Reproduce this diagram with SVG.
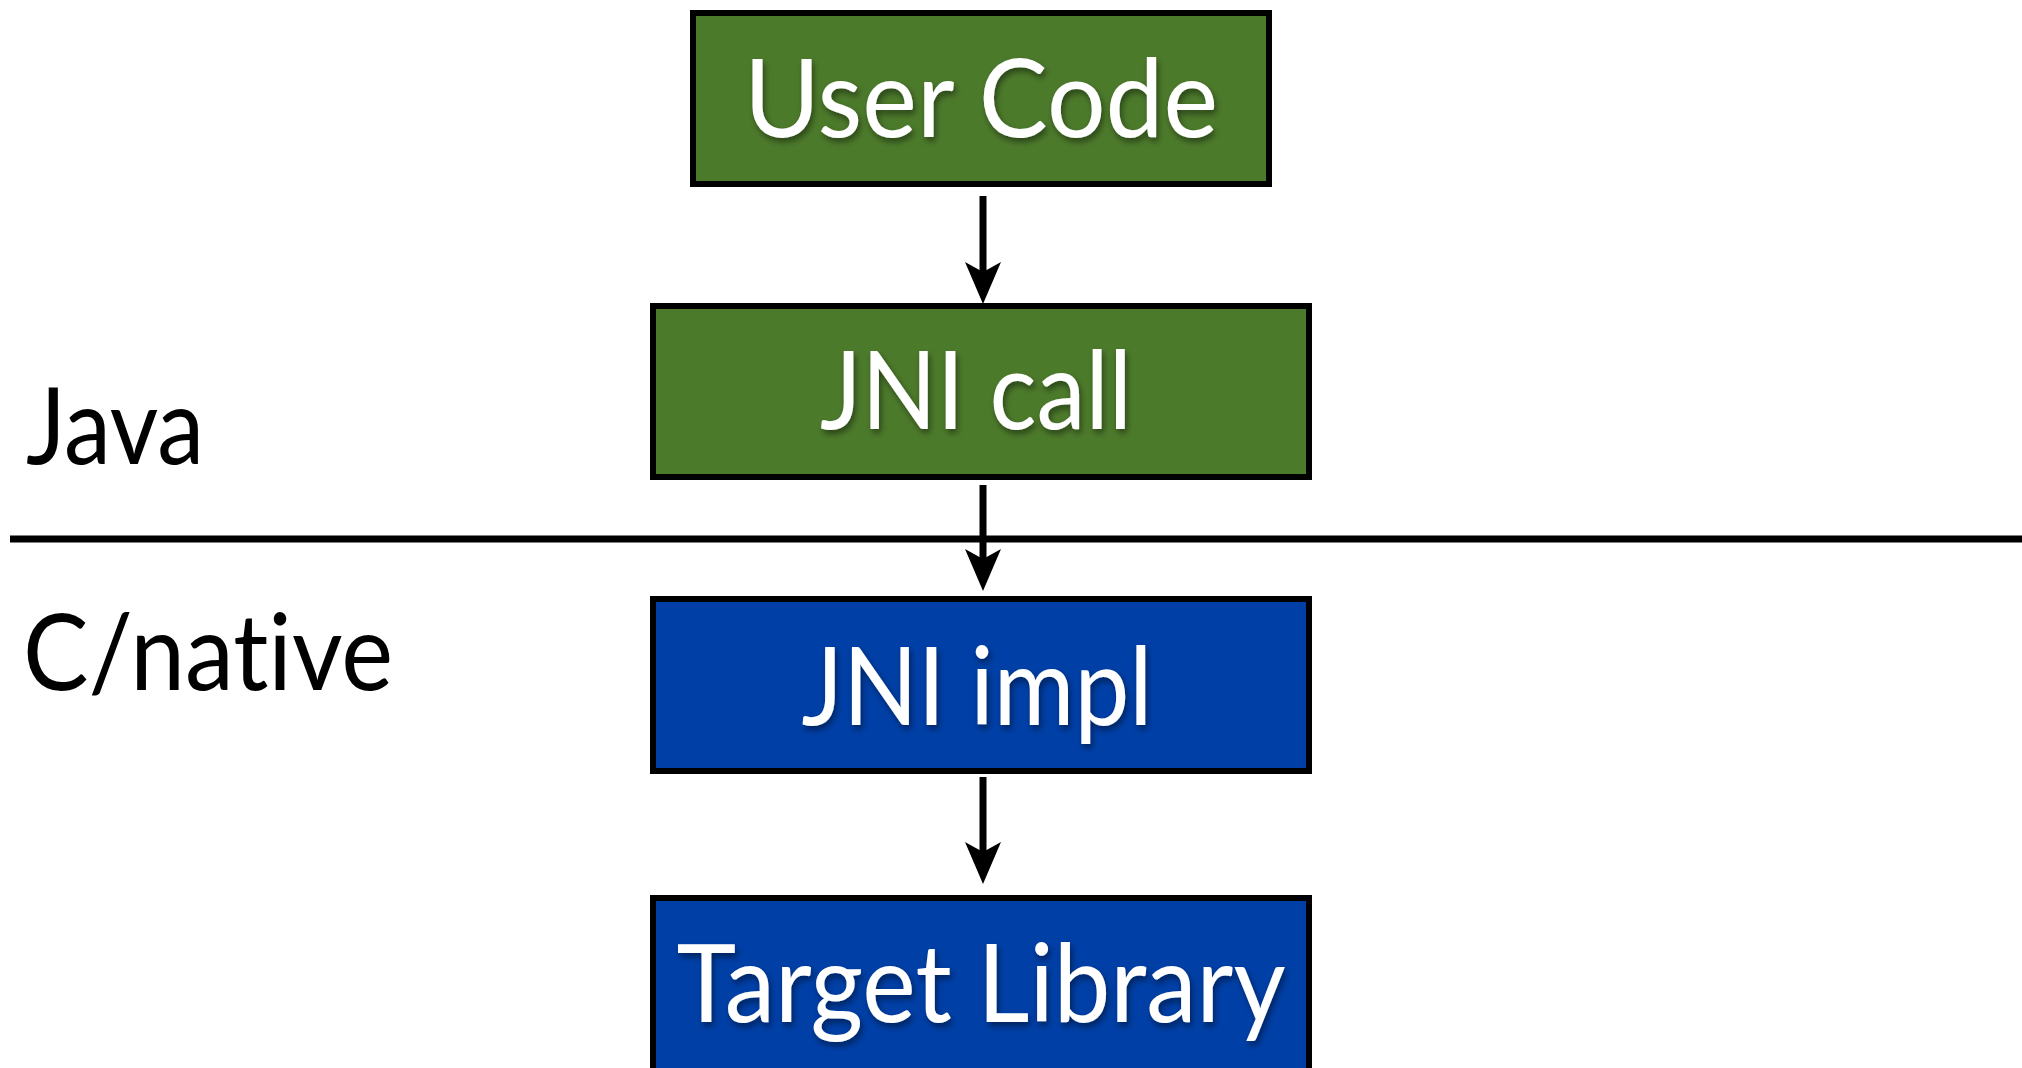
<svg xmlns="http://www.w3.org/2000/svg" width="2022" height="1068" viewBox="0 0 2022 1068">
<defs>
<style>
.box{stroke:#000;stroke-width:6}
.java{fill:#4c7a2b}
.native{fill:#003fa6}
.lbl{font-family:Lato,"Open Sans",sans-serif;font-size:108px;fill:#fff;text-anchor:middle;font-variant-ligatures:none}
.side{font-family:Lato,"Open Sans",sans-serif;font-size:106px;fill:#000;font-variant-ligatures:none}
.conn{stroke:#000;stroke-width:7;fill:none}
</style>
<filter id="sh" x="-10%" y="-10%" width="120%" height="130%">
<feDropShadow dx="2" dy="4" stdDeviation="3" flood-color="#000" flood-opacity="0.45"/>
</filter>
<marker id="ah" viewBox="0 0 42 36" markerUnits="userSpaceOnUse" markerWidth="42" markerHeight="36" refX="20" refY="18" orient="auto">
<path d="M0,0 L42,18 L0,36 L10,18 Z" fill="#000"/>
</marker>
</defs>
<rect width="2022" height="1068" fill="#fff"/>
<g id="labels">
<text class="side" x="26" y="464" textLength="178" lengthAdjust="spacingAndGlyphs">Java</text>
<text class="side" x="23" y="690" textLength="370" lengthAdjust="spacingAndGlyphs">C/native</text>
</g>
<g id="connectors">
<line class="conn" x1="10" y1="539" x2="2022" y2="539"/>
<line class="conn" x1="983" y1="196" x2="983" y2="282" marker-end="url(#ah)"/>
<line class="conn" x1="983" y1="485" x2="983" y2="569" marker-end="url(#ah)"/>
<line class="conn" x1="983" y1="777" x2="983" y2="862" marker-end="url(#ah)"/>
</g>
<g id="user-code">
<rect class="box java" x="693" y="13" width="576" height="171"/>
<text class="lbl" x="981" y="137" textLength="474" lengthAdjust="spacingAndGlyphs" filter="url(#sh)">User Code</text>
</g>
<g id="jni-call">
<rect class="box java" x="653" y="306" width="656" height="171"/>
<text class="lbl" x="976" y="429" textLength="312" lengthAdjust="spacingAndGlyphs" filter="url(#sh)">JNI call</text>
</g>
<g id="jni-impl">
<rect class="box native" x="653" y="599" width="656" height="172"/>
<text class="lbl" x="977" y="725" textLength="351" lengthAdjust="spacingAndGlyphs" filter="url(#sh)">JNI impl</text>
</g>
<g id="target-library">
<rect class="box native" x="653" y="898" width="656" height="175"/>
<text class="lbl" x="981" y="1022" textLength="609" lengthAdjust="spacingAndGlyphs" filter="url(#sh)">Target Library</text>
</g>
</svg>
